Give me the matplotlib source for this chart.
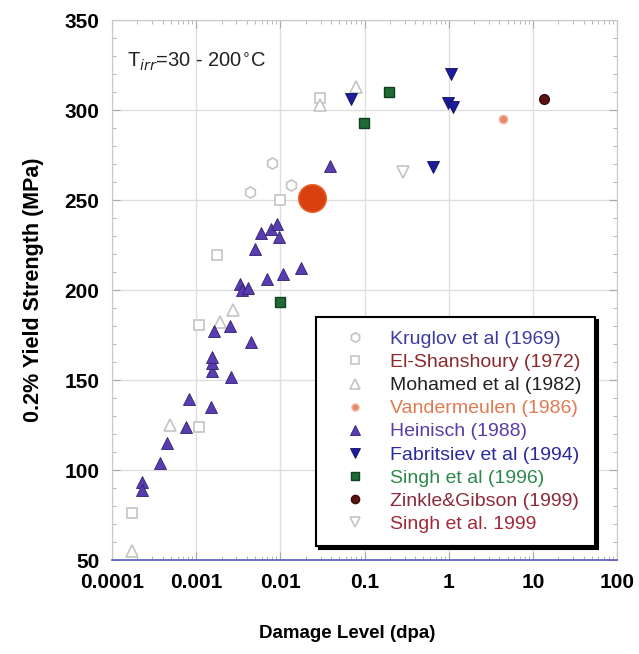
import numpy as np
import matplotlib
matplotlib.use("Agg")
from matplotlib import pyplot as plt
from matplotlib.ticker import FixedLocator, LogLocator, NullFormatter, MultipleLocator

plt.rcParams['font.family'] = ['Liberation Sans', 'DejaVu Sans']

# Data
kruglov_x = [7.9e-3, 4.35e-3, 1.34e-2]
kruglov_y = [270.6, 254.4, 258.3]

elshan_x = [1.73e-4, 1.08e-3, 1.08e-3, 1.77e-3, 9.9e-3, 0.0295]
elshan_y = [76.1, 123.9, 180.6, 219.4, 250.0, 306.7]

mohamed_x = [1.73e-4, 4.9e-4, 1.92e-3, 2.73e-3, 0.0295, 0.079]
mohamed_y = [55.0, 125.0, 182.0, 189.0, 303.0, 312.8]

vander_x = [4.4]
vander_y = [295.0]

heinisch_x = [2.27e-4, 2.27e-4, 3.71e-4, 4.5e-4, 7.57e-4, 8.2e-4, 1.5e-3,
              1.54e-3, 1.54e-3, 1.54e-3, 1.63e-3, 2.52e-3, 2.59e-3, 4.48e-3,
              3.31e-3, 3.5e-3, 4.12e-3, 4.99e-3, 5.88e-3, 7.73e-3, 9.1e-3,
              9.6e-3, 6.94e-3, 1.07e-2, 1.76e-2, 3.88e-2]
heinisch_y = [93.3, 88.9, 103.9, 115.0, 123.9, 139.4, 135.0,
              155.0, 159.4, 162.8, 177.2, 180.0, 151.7, 171.1,
              203.3, 200.0, 201.1, 222.8, 231.7, 233.9, 236.7,
              229.4, 206.1, 208.9, 212.2, 268.9]

fab_x = [0.0689, 1.06, 0.977, 1.12, 0.648]
fab_y = [306.1, 320.0, 303.9, 301.7, 268.3]

singh96_x = [0.00989, 0.0984, 0.195]
singh96_y = [193.3, 292.8, 310.0]

zinkle_x = [13.5]
zinkle_y = [306.1]

singh99_x = [0.286]
singh99_y = [265.6]

highlight_x = [0.0237]
highlight_y = [251.0]

xticks = [1e-4, 1e-3, 1e-2, 1e-1, 1, 10, 100]
xtick_labels = ["0.0001", "0.001", "0.01", "0.1", "1", "10", "100"]
yticks = [50, 100, 150, 200, 250, 300, 350]

fig = plt.figure(figsize=(6.39, 6.54), dpi=100)
ax = fig.add_axes([0.1753, 0.1437, 0.7903, 0.8257])
ax.set_xscale("log")
ax.set_xlim(1e-4, 100)
ax.set_ylim(50, 350)

ax.grid(True, which="major", color="#dedede", linewidth=1.0, zorder=0)

light = "#c4c4c4"
ax.plot(kruglov_x, kruglov_y, "h", ms=8, mfc="white", mec=light, mew=1.2,
        ls="none", label="Kruglov et al (1969)")
ax.plot(elshan_x, elshan_y, "s", ms=7, mfc="white", mec=light, mew=1.2,
        ls="none", label="El-Shanshoury (1972)")
ax.plot(mohamed_x, mohamed_y, "^", ms=8, mfc="white", mec=light, mew=1.2,
        ls="none", label="Mohamed et al (1982)")
ax.plot(vander_x, vander_y, "o", ms=6, mfc="#e6896a", mec="#f0b8a0",
        ls="none", label="Vandermeulen (1986)")
ax.plot(heinisch_x, heinisch_y, "^", ms=8, mfc="#5a3cb0", mec="#2e2070",
        mew=0.6, ls="none", label="Heinisch (1988)")
ax.plot(fab_x, fab_y, "v", ms=8, mfc="#1c1c9c", mec="#10105a", mew=0.6,
        ls="none", label="Fabritsiev et al (1994)")
ax.plot(singh96_x, singh96_y, "s", ms=7, mfc="#1f6b35", mec="#123f20",
        ls="none", label="Singh et al (1996)")
ax.plot(zinkle_x, zinkle_y, "o", ms=7, mfc="#5a1414", mec="#3a0a0a",
        ls="none", label="Zinkle&Gibson (1999)")
ax.plot(singh99_x, singh99_y, "v", ms=8, mfc="white", mec=light, mew=1.2,
        ls="none", label="Singh et al. 1999")
ax.plot(highlight_x, highlight_y, "o", ms=20, mfc="#d8400f", mec="#e86a30",
        ls="none", zorder=3)

ax.xaxis.set_major_locator(FixedLocator(xticks))
ax.set_xticklabels(xtick_labels)
ax.xaxis.set_minor_locator(LogLocator(base=10, subs=np.arange(2, 10)))
ax.xaxis.set_minor_formatter(NullFormatter())
ax.set_yticks(yticks)
ax.yaxis.set_minor_locator(MultipleLocator(10))

ax.tick_params(which="both", direction="in", top=True, right=True,
               color="#aaaaaa")
ax.tick_params(which="major", length=6, labelsize=15, pad=9)
ax.tick_params(which="minor", length=3)
for lab in ax.get_xticklabels() + ax.get_yticklabels():
    lab.set_fontweight("bold")

for side in ["top", "left", "right"]:
    ax.spines[side].set_color("#c8c8c8")
ax.spines["bottom"].set_color("#5a5ac8")
ax.spines["bottom"].set_linewidth(1.2)

ax.set_xlabel("Damage Level (dpa)", fontsize=13.5, fontweight="bold")
ax.xaxis.set_label_coords(0.465, -0.12)
ax.set_ylabel("0.2% Yield Strength (MPa)", fontsize=15.5, fontweight="bold",
              labelpad=15)

ax.text(0.03, 0.945, r"T$_{irr}$=30 - 200$^{\circ}$C", transform=ax.transAxes,
        fontsize=14.5, va="top", ha="left", color="#222222")

label_colors = ["#3c3ca0", "#8a2a2a", "#222222", "#e07a50", "#5a3ca8",
                "#2a2aa0", "#2e8a4a", "#8a2a3a", "#a02a3a"]
leg = ax.legend(loc="upper left", bbox_to_anchor=(0.404, 0.45), fontsize=14,
                frameon=True, fancybox=False, shadow={"color": "black", "alpha": 1},
                handlelength=2.6, handletextpad=0.5, labelspacing=0.28,
                borderpad=0.7, borderaxespad=0.0, markerscale=0.85)
leg.get_frame().set_edgecolor("black")
leg.get_frame().set_linewidth(1.5)
for txt, c in zip(leg.get_texts(), label_colors):
    txt.set_color(c)

fig.savefig("out.png", dpi=100)
